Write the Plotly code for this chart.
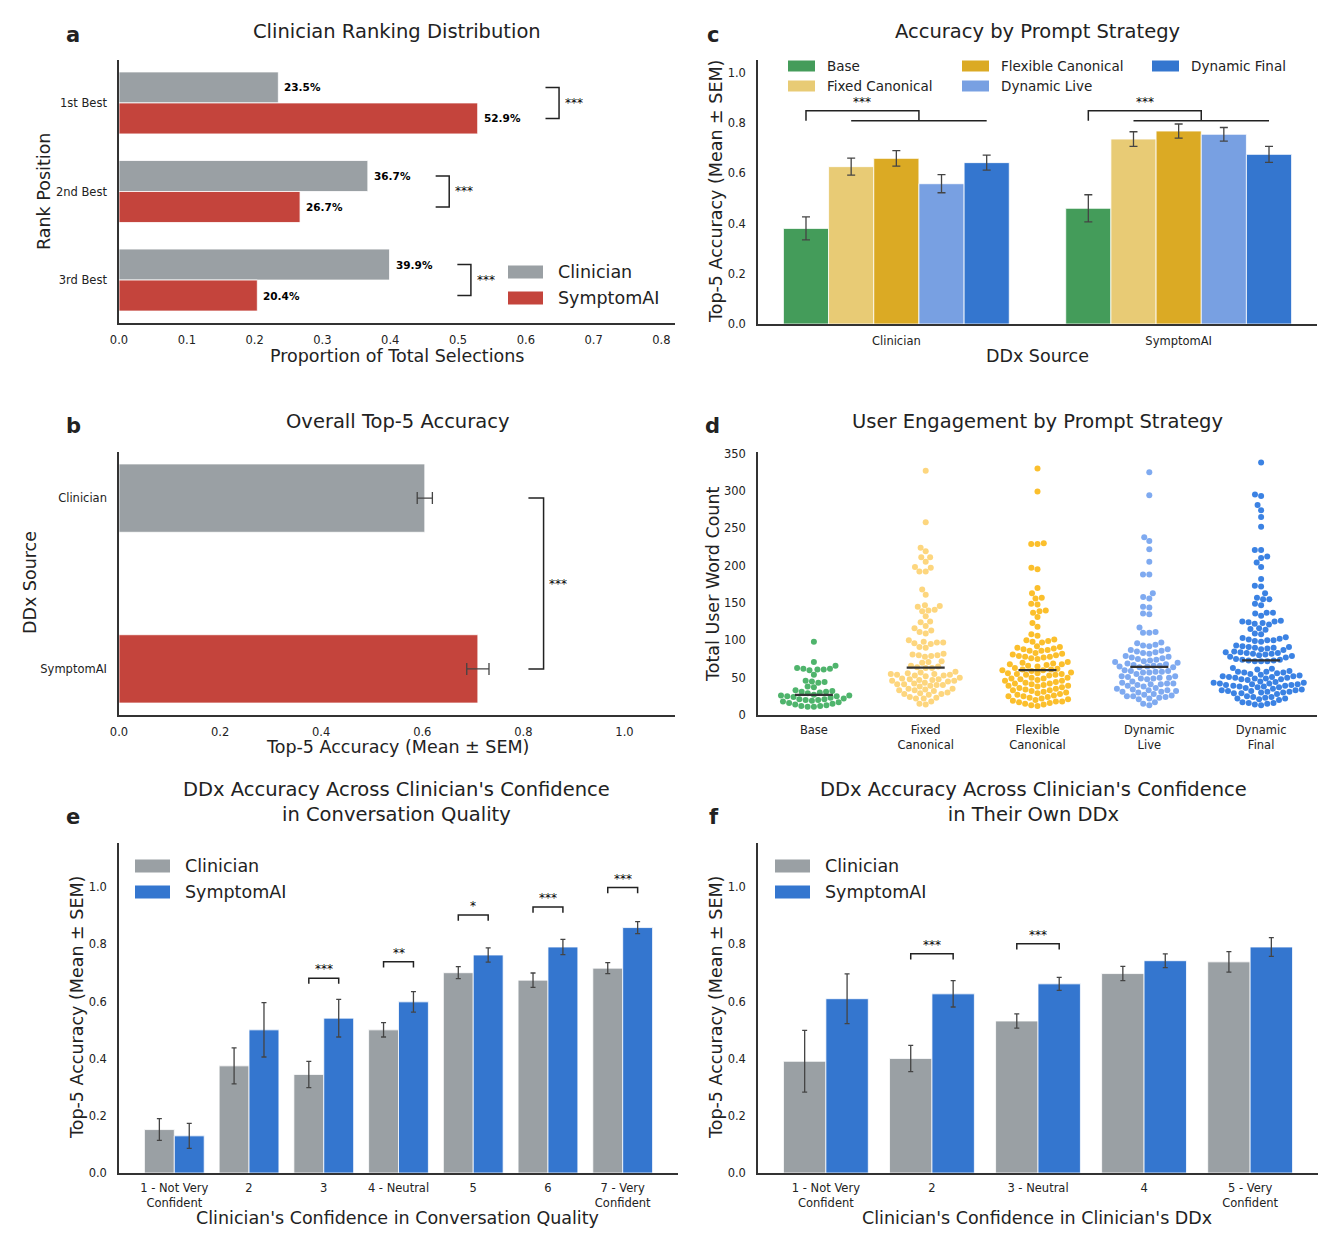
import math
import statistics
import plotly.graph_objects as go

W, H = 1336, 1248
PAGE_PAD = 8  # the page body adds an 8 px margin

# ---- a: ranking distribution
rank_labels = ["1st Best", "2nd Best", "3rd Best"]
rank_clin = [0.235, 0.367, 0.399]
rank_sym = [0.529, 0.267, 0.204]
rank_sig = ["***", "***", "***"]

# ---- b: overall accuracy
sources = ["Clinician", "SymptomAI"]
overall_mean = [0.605, 0.710]
overall_sem = [0.015, 0.022]
overall_sig = "***"

# ---- c: accuracy by prompt strategy (Clinician, SymptomAI)
strategies = ["Base", "Fixed Canonical", "Flexible Canonical", "Dynamic Live", "Dynamic Final"]
acc_base = [0.381, 0.461]
acc_fixed = [0.627, 0.737]
acc_flex = [0.660, 0.769]
acc_live = [0.559, 0.756]
acc_final = [0.643, 0.676]
sem_base = [0.046, 0.054]
sem_fixed = [0.034, 0.029]
sem_flex = [0.031, 0.028]
sem_live = [0.036, 0.027]
sem_final = [0.030, 0.032]
strat_sig = ["***", "***"]

# ---- d: user word counts
strategy_ticks = ["Base", "Fixed<br>Canonical", "Flexible<br>Canonical", "Dynamic<br>Live", "Dynamic<br>Final"]
words_base = [98, 71, 66, 63, 62, 62, 61, 61, 60, 54, 46, 45, 44, 43, 38, 37, 33, 32, 31, 31, 30, 29, 27,
              26, 26, 25, 25, 24, 23, 22, 21, 21, 20, 20, 19, 18, 17, 16, 15, 14, 13, 12, 12, 11, 11]
words_fixed = [327, 258, 224, 219, 211, 211, 205, 198, 197, 192, 192, 168, 161, 146, 147, 145, 141, 140,
               139, 132, 124, 125, 119, 116, 113, 111, 109, 100, 98, 97, 97, 96, 95, 91, 90, 82, 81, 80,
               80, 79, 78, 72, 71, 70, 66, 65, 64, 63, 63, 58, 57, 56, 55, 55, 54, 54, 53, 53, 52, 50,
               49, 48, 48, 47, 47, 46, 46, 45, 43, 42, 41, 41, 40, 40, 39, 38, 35, 35, 34, 33, 33, 32,
               30, 29, 28, 28, 27, 24, 23, 22, 22, 18, 15, 14]
words_flex = [330, 299, 229, 229, 230, 197, 195, 170, 163, 156, 157, 149, 148, 140, 139, 137, 131, 123,
              118, 108, 106, 101, 100, 99, 98, 97, 92, 91, 90, 89, 88, 87, 86, 86, 83, 82, 81, 80, 79,
              78, 78, 77, 76, 75, 71, 70, 69, 68, 68, 67, 66, 65, 63, 62, 61, 61, 60, 60, 59, 57, 56,
              56, 55, 55, 54, 54, 53, 50, 50, 49, 49, 48, 47, 46, 46, 44, 43, 42, 42, 41, 40, 39, 39,
              38, 37, 36, 35, 34, 33, 33, 32, 31, 30, 29, 28, 27, 26, 25, 25, 24, 23, 22, 21, 20, 19,
              18, 18, 17, 16, 15, 14, 13, 12]
words_live = [325, 294, 238, 233, 222, 205, 188, 188, 163, 158, 156, 145, 144, 136, 135, 117, 111, 110,
              110, 97, 96, 94, 93, 92, 88, 87, 86, 85, 84, 83, 82, 79, 78, 77, 76, 75, 74, 73, 72, 71,
              70, 69, 68, 67, 66, 66, 65, 65, 64, 64, 60, 59, 59, 58, 58, 57, 57, 55, 52, 52, 51, 50,
              50, 49, 49, 48, 45, 43, 42, 42, 41, 41, 40, 39, 38, 36, 35, 34, 33, 33, 32, 31, 31, 30,
              28, 27, 26, 25, 25, 24, 23, 22, 21, 17, 15, 13]
words_final = [338, 295, 293, 281, 274, 265, 252, 221, 221, 212, 210, 204, 198, 182, 173, 172, 163, 157,
               155, 155, 149, 147, 137, 137, 136, 133, 126, 125, 125, 124, 123, 122, 121, 116, 115, 114,
               109, 108, 104, 103, 102, 101, 100, 100, 99, 98, 93, 92, 91, 91, 90, 90, 89, 88, 87, 85,
               84, 84, 83, 83, 82, 82, 81, 80, 79, 78, 77, 75, 74, 74, 73, 73, 72, 72, 72, 63, 62, 61,
               59, 58, 58, 57, 57, 56, 55, 54, 53, 52, 52, 51, 51, 50, 50, 49, 49, 48, 48, 47, 45, 44,
               43, 43, 42, 42, 41, 41, 40, 40, 39, 39, 38, 38, 37, 37, 36, 35, 34, 33, 33, 32, 32, 31,
               31, 30, 30, 29, 29, 28, 25, 24, 24, 23, 22, 22, 21, 20, 17, 16, 16, 15, 14, 13]

# ---- e: confidence in conversation quality
conv_labels = ["1 - Not Very<br>Confident", "2", "3", "4 - Neutral", "5", "6", "7 - Very<br>Confident"]
conv_clin = [0.152, 0.375, 0.345, 0.501, 0.701, 0.675, 0.717]
conv_clin_sem = [0.038, 0.063, 0.046, 0.025, 0.021, 0.025, 0.019]
conv_sym = [0.130, 0.501, 0.542, 0.599, 0.763, 0.791, 0.859]
conv_sym_sem = [0.044, 0.095, 0.066, 0.036, 0.025, 0.027, 0.021]
conv_sig = ["", "", "***", "**", "*", "***", "***"]

# ---- f: confidence in own DDx
ddx_labels = ["1 - Not Very<br>Confident", "2", "3 - Neutral", "4", "5 - Very<br>Confident"]
ddx_clin = [0.391, 0.401, 0.532, 0.698, 0.739]
ddx_clin_sem = [0.108, 0.046, 0.025, 0.025, 0.036]
ddx_sym = [0.610, 0.627, 0.662, 0.743, 0.791]
ddx_sym_sem = [0.087, 0.046, 0.023, 0.024, 0.033]
ddx_sig = ["", "***", "***", "", ""]

GRAY = "#9aa0a4"
RED = "#c4443c"
BLUE = "#3476cf"
BAR_COLS = ["#449c5a", "#e8cb75", "#dbaa24", "#78a0e2", "#3476cf"]
DOT_COLS = ["#4fb46c", "#fdd67e", "#fbbf2c", "#7faaf0", "#3b82e3"]
INK = "#222222"
FONT = "DejaVu Sans"
TICK = 11.5
STAR = 12


def px(x):
    return (x - PAGE_PAD) / W


def py(y):
    return 1 - (y - PAGE_PAD) / H


fig = go.Figure()
shapes = []
ann = []


def text(x, y, s, size, **kw):
    d = dict(x=px(x), y=py(y), xref="paper", yref="paper", text=s, showarrow=False,
             xanchor="center", yanchor="middle",
             font=dict(size=size, color=INK, family=FONT))
    d.update(kw)
    ann.append(d)


def path(pts, xr, yr, width=1.5):
    p = "M " + " L ".join(f"{a},{b}" for a, b in pts)
    shapes.append(dict(type="path", path=p, xref=xr, yref=yr,
                       line=dict(color=INK, width=width)))


def err(arr, w=4):
    return dict(type="data", array=arr, color="#444444", thickness=1.3, width=w)


# ---------------- a
fig.add_bar(y=[i - 0.175 for i in range(3)], x=rank_clin, orientation="h", width=0.35,
            marker=dict(color=GRAY, line=dict(color="white", width=0.8)), xaxis="x", yaxis="y")
fig.add_bar(y=[i + 0.175 for i in range(3)], x=rank_sym, orientation="h", width=0.35,
            marker=dict(color=RED, line=dict(color="white", width=0.8)), xaxis="x", yaxis="y")
for i in range(3):
    for v, off in ((rank_clin[i], -0.175), (rank_sym[i], 0.175)):
        ann.append(dict(x=v + 0.006, y=i + off, xref="x", yref="y", text=f"<b>{v:.1%}</b>",
                        showarrow=False, xanchor="left", yanchor="middle",
                        font=dict(size=10.5, color="black", family=FONT)))
    m = max(rank_clin[i], rank_sym[i])
    path([(m + 0.1, i - 0.175), (m + 0.12, i - 0.175), (m + 0.12, i + 0.175), (m + 0.1, i + 0.175)], "x", "y")
    ann.append(dict(x=m + 0.126, y=i, xref="x", yref="y", text=rank_sig[i], showarrow=False,
                    xanchor="left", yanchor="middle",
                    font=dict(size=STAR, color="black", family=FONT)))

# ---------------- b
fig.add_bar(y=[0, 1], x=overall_mean, orientation="h", width=0.4,
            marker=dict(color=[GRAY, RED], line=dict(color="white", width=0.8)),
            error_x=err(overall_sem, 6), xaxis="x2", yaxis="y2")
mb = max(overall_mean)
path([(mb + 0.1, 0), (mb + 0.13, 0), (mb + 0.13, 1), (mb + 0.1, 1)], "x2", "y2")
ann.append(dict(x=mb + 0.136, y=0.5, xref="x2", yref="y2", text=overall_sig, showarrow=False,
                xanchor="left", yanchor="middle",
                font=dict(size=STAR, color="black", family=FONT)))

# ---------------- c
accs = [acc_base, acc_fixed, acc_flex, acc_live, acc_final]
sems = [sem_base, sem_fixed, sem_flex, sem_live, sem_final]
bw = 0.16
for j in range(5):
    fig.add_bar(x=[g + (j - 2) * bw for g in range(2)], y=accs[j], width=bw,
                marker=dict(color=BAR_COLS[j], line=dict(color="white", width=0.8)),
                error_y=err(sems[j], 4), xaxis="x3", yaxis="y3")
for g in range(2):
    xb = g - 2 * bw
    xs = [g + (j - 2) * bw for j in range(1, 5)]
    xm = (xs[0] + xs[-1]) / 2
    path([(xb, 0.81), (xb, 0.85), (xm, 0.85), (xm, 0.81)], "x3", "y3")
    path([(xs[0], 0.81), (xs[-1], 0.81)], "x3", "y3")
    ann.append(dict(x=(xb + xm) / 2, y=0.85, xref="x3", yref="y3", text=strat_sig[g],
                    showarrow=False, xanchor="center", yanchor="bottom",
                    font=dict(size=STAR, color="black", family=FONT)))

# ---------------- d (beeswarm)
XS, YS, D = 559 / 5, 263 / 352, 6.3


def swarm(vals):
    order = sorted(range(len(vals)), key=lambda k: vals[k])
    placed = []
    offs = [0.0] * len(vals)
    for k in order:
        y = vals[k] * YS
        near = [(a, b) for a, b in placed if abs(b - y) < D]
        cands = [0.0]
        for a, b in near:
            dx = math.sqrt(D * D - (b - y) ** 2)
            cands += [a + dx, a - dx]
        cands.sort(key=lambda c: (abs(c), c))
        pick = cands[-1]
        for c in cands:
            if all((c - a) ** 2 + (y - b) ** 2 >= D * D - 1e-6 for a, b in near):
                pick = c
                break
        placed.append((pick, y))
        offs[k] = pick / XS
    return offs


word_sets = [words_base, words_fixed, words_flex, words_live, words_final]
for i, vals in enumerate(word_sets):
    offs = swarm(vals)
    fig.add_scatter(x=[i + o for o in offs], y=vals, mode="markers",
                    marker=dict(size=6, color=DOT_COLS[i], line=dict(width=0)),
                    xaxis="x4", yaxis="y4")
for i, vals in enumerate(word_sets):
    med = statistics.median(vals)
    fig.add_scatter(x=[i - 0.17, i + 0.17], y=[med, med], mode="lines",
                    line=dict(color="#333333", width=2.2), xaxis="x4", yaxis="y4")


# ---------------- e, f
def paired(clin, csem, sym, ssem, sig, xa, ya):
    n = len(clin)
    fig.add_bar(x=[i - 0.2 for i in range(n)], y=clin, width=0.4,
                marker=dict(color=GRAY, line=dict(color="white", width=0.8)),
                error_y=err(csem, 2.5), xaxis=xa, yaxis=ya)
    fig.add_bar(x=[i + 0.2 for i in range(n)], y=sym, width=0.4,
                marker=dict(color=BLUE, line=dict(color="white", width=0.8)),
                error_y=err(ssem, 2.5), xaxis=xa, yaxis=ya)
    for i in range(n):
        if not sig[i]:
            continue
        h = max(clin[i], sym[i]) + 0.12
        path([(i - 0.2, h), (i - 0.2, h + 0.02), (i + 0.2, h + 0.02), (i + 0.2, h)], xa, ya)
        ann.append(dict(x=i, y=h + 0.02, xref=xa, yref=ya, text=sig[i], showarrow=False,
                        xanchor="center", yanchor="bottom",
                        font=dict(size=STAR, color="black", family=FONT)))


paired(conv_clin, conv_clin_sem, conv_sym, conv_sym_sem, conv_sig, "x5", "y5")
paired(ddx_clin, ddx_clin_sem, ddx_sym, ddx_sym_sem, ddx_sig, "x6", "y6")

# ---------------- legends (drawn as patches + text)


def patch(x0, x1, yc, h, col):
    shapes.append(dict(type="rect", xref="paper", yref="paper", x0=px(x0), x1=px(x1),
                       y0=py(yc + h / 2), y1=py(yc - h / 2), fillcolor=col,
                       line=dict(width=0)))


for k, (name, col) in enumerate(zip(sources, [GRAY, RED])):
    patch(508, 543, 272 + 26 * k, 13, col)
    text(556, 272 + 26 * k, name, 17.5, xanchor="left")

leg_pos = [(788, 66), (788, 86), (962, 66), (962, 86), (1152, 66)]
for name, col, (lx, ly) in zip(strategies, BAR_COLS, leg_pos):
    patch(lx, lx + 27, ly, 11, col)
    text(lx + 37, ly, name, 13.5, xanchor="left")

for lx in (135, 775):
    for k, (name, col) in enumerate(zip(sources, [GRAY, BLUE])):
        patch(lx, lx + 35, 866 + 26 * k, 13, col)
        text(lx + 48, 866 + 26 * k, name, 17.5, xanchor="left")

# ---------------- titles, axis titles, panel letters
titles = [
    (397, 31, "Clinician Ranking Distribution"),
    (397, 421, "Overall Top-5 Accuracy"),
    (1037, 31, "Accuracy by Prompt Strategy"),
    (1037, 421, "User Engagement by Prompt Strategy"),
    (396, 802, "DDx Accuracy Across Clinician's Confidence<br>in Conversation Quality"),
    (1033, 802, "DDx Accuracy Across Clinician's Confidence<br>in Their Own DDx"),
]
for x, y, s in titles:
    text(x, y, s, 19.5)

for x, y, s in [(73, 35, "a"), (73, 426, "b"), (713, 35, "c"), (712, 426, "d"),
                (73, 817, "e"), (714, 817, "f")]:
    text(x, y, f"<b>{s}</b>", 21)

xtitles = [
    (397, 356, "Proportion of Total Selections"),
    (397, 747, "Top-5 Accuracy (Mean ± SEM)"),
    (1037, 356, "DDx Source"),
    (397, 1218, "Clinician's Confidence in Conversation Quality"),
    (1037, 1218, "Clinician's Confidence in Clinician's DDx"),
]
for x, y, s in xtitles:
    text(x, y, s, 17.5)

ytitles = [
    (44, 192, "Rank Position"),
    (30, 583, "DDx Source"),
    (716, 192, "Top-5 Accuracy (Mean ± SEM)"),
    (713, 584, "Total User Word Count"),
    (77, 1008, "Top-5 Accuracy (Mean ± SEM)"),
    (716, 1008, "Top-5 Accuracy (Mean ± SEM)"),
]
for x, y, s in ytitles:
    text(x, y, s, 17.5, textangle=-90)

# ---------------- axes
base_ax = dict(showline=True, linecolor="#333333", linewidth=1.5, ticks="", showgrid=False,
               zeroline=False, automargin=False,
               tickfont=dict(size=TICK, color=INK, family=FONT), fixedrange=True)


def ax(**kw):
    d = dict(base_ax)
    d.update(kw)
    return d


acc_ticks = [0.0, 0.2, 0.4, 0.6, 0.8, 1.0]
fig.update_layout(
    xaxis=ax(domain=[px(119), px(675)], anchor="y", range=[0, 0.82],
             tickvals=[0.0, 0.1, 0.2, 0.3, 0.4, 0.5, 0.6, 0.7, 0.8], tickformat=".1f", ticklabelstandoff=5),
    yaxis=ax(domain=[py(323), py(60)], anchor="x", range=[2.485, -0.485],
             tickvals=[0, 1, 2], ticktext=rank_labels, ticklabelstandoff=8),
    xaxis2=ax(domain=[px(119), px(675)], anchor="y2", range=[0, 1.1],
              tickvals=acc_ticks, tickformat=".1f", ticklabelstandoff=5),
    yaxis2=ax(domain=[py(715), py(452)], anchor="x2", range=[1.27, -0.27],
              tickvals=[0, 1], ticktext=sources, ticklabelstandoff=8),
    xaxis3=ax(domain=[px(758), px(1317)], anchor="y3", range=[-0.49, 1.49],
              tickvals=[0, 1], ticktext=sources, ticklabelstandoff=5),
    yaxis3=ax(domain=[py(324), py(60)], anchor="x3", range=[0, 1.052],
              tickvals=acc_ticks, tickformat=".1f", ticklabelstandoff=8),
    xaxis4=ax(domain=[px(758), px(1317)], anchor="y4", range=[-0.5, 4.5],
              tickvals=list(range(5)), ticktext=strategy_ticks, ticklabelstandoff=3),
    yaxis4=ax(domain=[py(715), py(452)], anchor="x4", range=[0, 352],
              tickvals=list(range(0, 351, 50)), ticklabelstandoff=8),
    xaxis5=ax(domain=[px(119), px(678)], anchor="y5", range=[-0.74, 6.74],
              tickvals=list(range(7)), ticktext=conv_labels, ticklabelstandoff=3),
    yaxis5=ax(domain=[py(1173), py(843)], anchor="x5", range=[0, 1.155],
              tickvals=acc_ticks, tickformat=".1f", ticklabelstandoff=8),
    xaxis6=ax(domain=[px(758), px(1318)], anchor="y6", range=[-0.64, 4.64],
              tickvals=list(range(5)), ticktext=ddx_labels, ticklabelstandoff=3),
    yaxis6=ax(domain=[py(1173), py(843)], anchor="x6", range=[0, 1.155],
              tickvals=acc_ticks, tickformat=".1f", ticklabelstandoff=8),
    width=W, height=H, margin=dict(l=0, r=0, t=0, b=0, autoexpand=False),
    paper_bgcolor="white", plot_bgcolor="white", showlegend=False,
    barmode="overlay", font=dict(family=FONT, color=INK),
    shapes=shapes, annotations=ann,
)

fig.write_html("out.html")
